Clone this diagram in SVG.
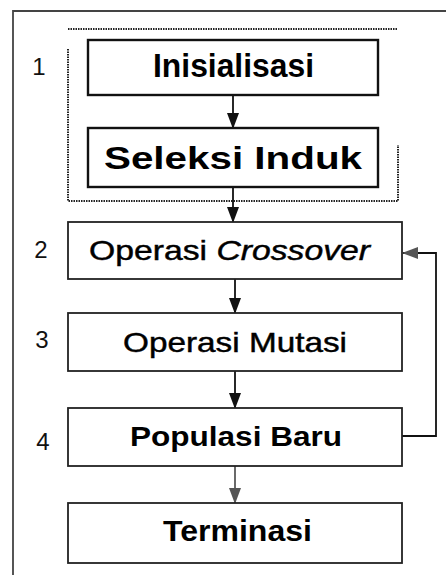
<svg xmlns="http://www.w3.org/2000/svg" width="446" height="575" viewBox="0 0 446 575">
<style>
.box{fill:#fff;stroke:#222;stroke-width:1.8}
.boxb{fill:#fff;stroke:#111;stroke-width:2.4}
.t{font-family:"Liberation Sans",Arial,sans-serif;fill:#000}
.tb{font-weight:bold}
.tm{stroke:#000;stroke-width:0.45}
.num{font-family:"Liberation Sans",Arial,sans-serif;font-size:24px;fill:#111;text-anchor:middle}
.ln{fill:none;stroke:#111;stroke-width:1.8}
.lg{fill:none;stroke:#444;stroke-width:1.6}
.dot{fill:none;stroke:#222;stroke-width:2;stroke-dasharray:1.5 1}
</style>
<defs>
<marker id="ah" markerWidth="16" markerHeight="12" refX="15" refY="6" orient="auto" markerUnits="userSpaceOnUse" viewBox="0 0 16 12">
<path d="M0,0 L16,6 L0,12 Z" fill="#111"/>
</marker>
<marker id="ahg" markerWidth="16" markerHeight="12" refX="15" refY="6" orient="auto" markerUnits="userSpaceOnUse" viewBox="0 0 16 12">
<path d="M0,0 L16,6 L0,12 Z" fill="#555"/>
</marker>
</defs>
<rect width="446" height="575" fill="#fff"/>
<g id="frame">
<path d="M13,575 L13,11 L446,11" fill="none" stroke="#444" stroke-width="1.8"/>
<path class="dot" d="M68,29 L398,29"/>
<path class="dot" d="M68,49 L68,201 L398,201 L398,145"/>
</g>
<g id="numbers">
<text class="num" x="39" y="75">1</text>
<text class="num" x="41" y="258">2</text>
<text class="num" x="42" y="348">3</text>
<text class="num" x="43" y="450">4</text>
</g>
<g id="connectors">
<path class="ln" d="M233,95 L233,128" marker-end="url(#ah)"/>
<path class="ln" d="M233,187 L233,222" marker-end="url(#ah)"/>
<path class="ln" d="M235,279 L235,313" marker-end="url(#ah)"/>
<path class="ln" d="M235,371 L235,408" marker-end="url(#ah)"/>
<path class="lg" d="M235,466 L235,503" marker-end="url(#ahg)"/>
<path class="ln" d="M402,436 L436,436 L436,253 L403,253" marker-end="url(#ahg)"/>
</g>
<g id="n1">
<rect class="boxb" x="88" y="40" width="290" height="55"/>
<text class="t tb" x="153" y="77" font-size="33" textLength="161" lengthAdjust="spacingAndGlyphs">Inisialisasi</text>
</g>
<g id="n2">
<rect class="boxb" x="88" y="128" width="290" height="59"/>
<text class="t tb" x="104" y="169" font-size="32" textLength="258" lengthAdjust="spacingAndGlyphs">Seleksi Induk</text>
</g>
<g id="n3">
<rect class="box" x="68" y="222" width="334" height="57"/>
<text class="t tm" x="89" y="260" font-size="28" textLength="281" lengthAdjust="spacingAndGlyphs">Operasi <tspan font-style="italic">Crossover</tspan></text>
</g>
<g id="n4">
<rect class="box" x="68" y="313" width="334" height="58"/>
<text class="t tm" x="123" y="352" font-size="28" textLength="224" lengthAdjust="spacingAndGlyphs">Operasi Mutasi</text>
</g>
<g id="n5">
<rect class="box" x="68" y="408" width="334" height="58"/>
<text class="t tb" x="130" y="446" font-size="28" textLength="212" lengthAdjust="spacingAndGlyphs">Populasi Baru</text>
</g>
<g id="n6">
<rect class="box" x="68" y="503" width="334" height="60"/>
<text class="t tb" x="163" y="541" font-size="29" textLength="149" lengthAdjust="spacingAndGlyphs">Terminasi</text>
</g>
</svg>
